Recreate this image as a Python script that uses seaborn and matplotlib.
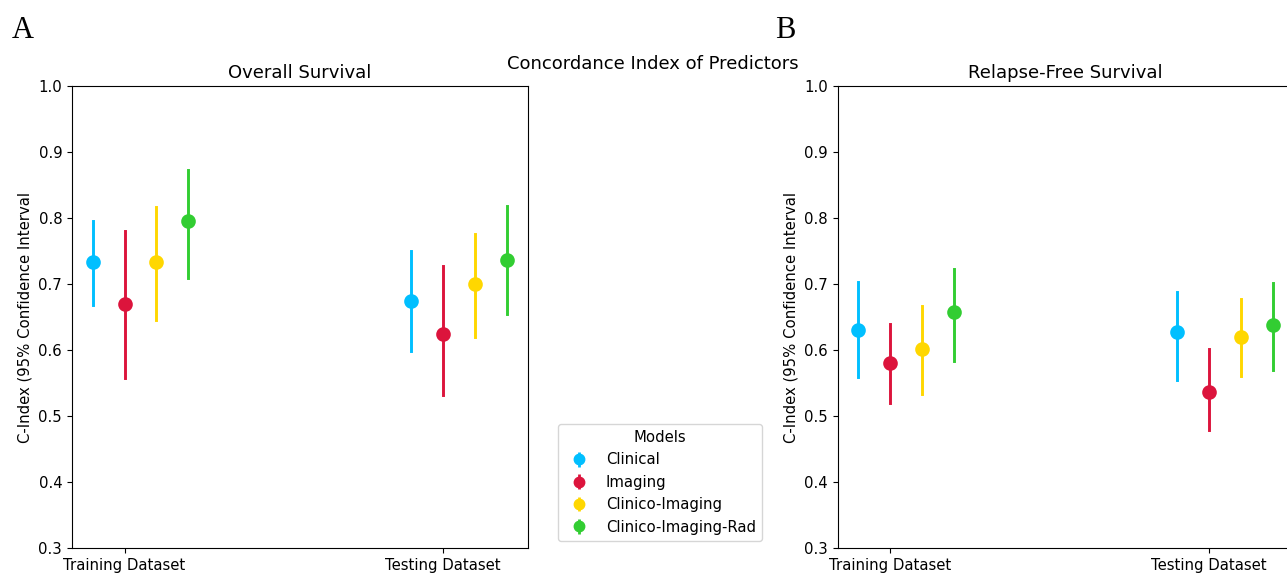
import pandas as pd
import matplotlib
matplotlib.use('Agg')
import matplotlib.pyplot as plt
import seaborn as sns
import numpy as np

# ----
# Data
# ----
datasets = ['Training Dataset', 'Testing Dataset']
models = ['Clinical', 'Imaging', 'Clinico-Imaging', 'Clinico-Imaging-Rad']
colours = ['#00BFFF', '#DC143C', '#FFD700', '#32CD32']
offsets = [-0.1, 0.0, 0.1, 0.2]

# overall survival: [training, testing] per model
os_cindex = {'Clinical': [0.733, 0.675], 'Imaging': [0.670, 0.625],
             'Clinico-Imaging': [0.734, 0.700], 'Clinico-Imaging-Rad': [0.795, 0.736]}
os_lower = {'Clinical': [0.668, 0.598], 'Imaging': [0.557, 0.532],
            'Clinico-Imaging': [0.646, 0.619], 'Clinico-Imaging-Rad': [0.709, 0.655]}
os_upper = {'Clinical': [0.796, 0.750], 'Imaging': [0.781, 0.728],
            'Clinico-Imaging': [0.816, 0.776], 'Clinico-Imaging-Rad': [0.872, 0.818]}

# relapse-free survival
rfs_cindex = {'Clinical': [0.631, 0.627], 'Imaging': [0.580, 0.536],
              'Clinico-Imaging': [0.602, 0.620], 'Clinico-Imaging-Rad': [0.657, 0.638]}
rfs_lower = {'Clinical': [0.559, 0.555], 'Imaging': [0.520, 0.479],
             'Clinico-Imaging': [0.533, 0.560], 'Clinico-Imaging-Rad': [0.583, 0.569]}
rfs_upper = {'Clinical': [0.703, 0.688], 'Imaging': [0.640, 0.601],
             'Clinico-Imaging': [0.667, 0.678], 'Clinico-Imaging-Rad': [0.722, 0.702]}

plt.rcParams['font.size'] = 10.7

# ---------
# Functions
# ---------

def long_data(cindex, lower, upper):
    # one row each for lower / estimate / upper -> median + full range gives the CI
    rows = []
    for j, m in enumerate(models):
        for i, d in enumerate(datasets):
            for v in (lower[m][i], cindex[m][i], upper[m][i]):
                rows.append({'x': i + offsets[j], 'model': m, 'C-Index': v})
    return pd.DataFrame(rows)


def plot_panel(ax, df, title):
    sns.pointplot(data=df, x='x', y='C-Index', hue='model', hue_order=models,
                  palette=colours, native_scale=True, linestyle='none',
                  estimator='median', errorbar=('pi', 100), markers='o',
                  markersize=8.5, err_kws={'linewidth': 2.1}, legend=False, ax=ax)
    ax.set_ylim(0.3, 1.0)
    ax.set_yticks(np.arange(0.3, 1.01, 0.1))
    ax.set_xticks([0, 1], datasets)
    ax.set_xlabel('')
    ax.set_ylabel('C-Index (95% Confidence Interval')
    ax.set_title(title, fontsize=13)


fig = plt.figure(figsize=(12.87, 5.76), dpi=100)
ax0 = fig.add_axes([0.0559, 0.0486, 0.3541, 0.8021])
ax1 = fig.add_axes([0.6509, 0.0486, 0.3541, 0.8021])

plot_panel(ax0, long_data(os_cindex, os_lower, os_upper), 'Overall Survival')
plot_panel(ax1, long_data(rfs_cindex, rfs_lower, rfs_upper), 'Relapse-Free Survival')
for ax in (ax0, ax1):
    ax.set_xlim(-0.165, 1.265)

fig.suptitle('Concordance Index of Predictors', fontsize=13, x=653 / 1287, y=1 - 64 / 576, va='center')

# errorbar-style legend handles
handles = []
for m, c in zip(models, colours):
    h = ax0.errorbar([np.nan], [np.nan], yerr=[[0.1], [0.1]], fmt='o', color=c,
                     markersize=7.5, elinewidth=2, label=m)
    handles.append(h)
fig.legend(handles=handles, labels=models, title='Models', loc='lower center',
           bbox_to_anchor=(660 / 1287, 1 - 548 / 576), fontsize=10.7, title_fontsize=10.7)

fig.text(12 / 1287, 1 - 38 / 576, 'A', fontsize=22, family='Liberation Serif', va='baseline')
fig.text(775 / 1287, 1 - 38 / 576, 'B', fontsize=22, family='Liberation Serif', va='baseline')

fig.savefig('out.png', dpi=100)
